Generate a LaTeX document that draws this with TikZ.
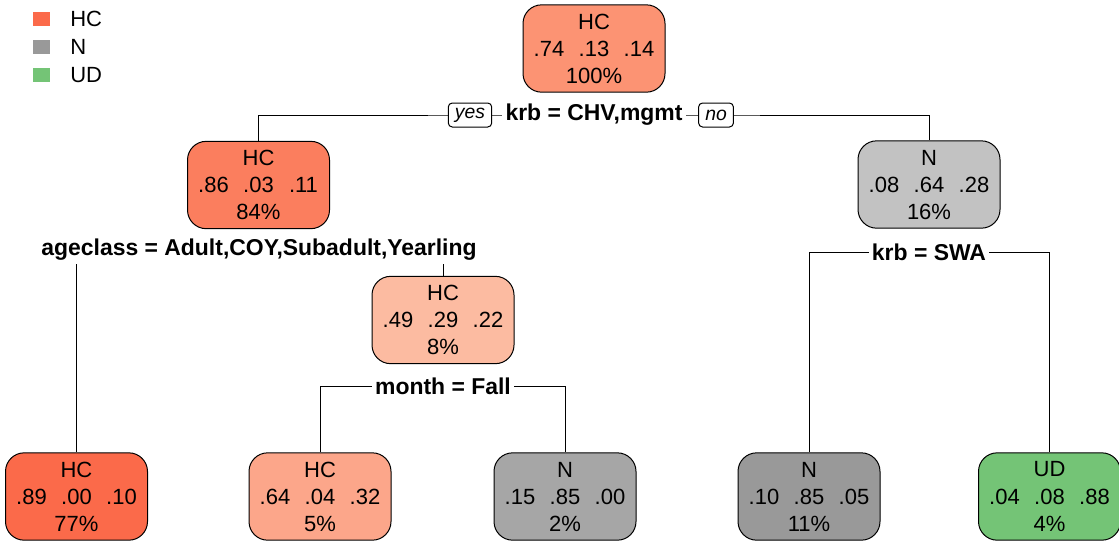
\documentclass[tikz,border=0pt]{standalone}
\usepackage{fontspec}
\setmainfont{Liberation Sans}
\begin{document}
\definecolor{hcA}{HTML}{FB6A4A}
\definecolor{hcB}{HTML}{FB7E5E}
\definecolor{hcC}{HTML}{FC9373}
\definecolor{hcD}{HTML}{FCA68A}
\definecolor{hcE}{HTML}{FCBBA1}
\definecolor{nA}{HTML}{999999}
\definecolor{nB}{HTML}{A6A6A6}
\definecolor{nC}{HTML}{C2C2C2}
\definecolor{udA}{HTML}{74C476}
\newcommand{\probs}[3]{\makebox[33.75pt][c]{#1}\makebox[33.75pt][c]{#2}\makebox[33.75pt][c]{#3}}
% tree node: name, x, y, fill, class, p1, p2, p3, percent
\newcommand{\treebox}[9]{%
  \node[treenode, fill=#4] (#1) at (#2,#3) {};
  \node[nodetxt] (#1-cls) at (#2,#3-27) {#5};
  \node[nodetxt] (#1-prb) at (#2,#3) {\probs{#6}{#7}{#8}};
  \node[nodetxt] (#1-pct) at (#2,#3+27) {#9};
}
\begin{tikzpicture}[x=0.75pt, y=-0.75pt,
  treenode/.style={draw=black, line width=0.75pt, rounded corners=14pt,
    minimum width=106.5pt, minimum height=65.5pt, inner sep=0pt},
  nodetxt/.style={inner sep=0pt, font=\fontsize{16.5}{18}\selectfont},
  splittxt/.style={fill=white, inner sep=2.5pt, font=\fontsize{17.2}{19}\selectfont\bfseries},
  yesno/.style={draw=black, fill=white, line width=0.75pt, rounded corners=3pt,
    inner xsep=5pt, inner ysep=1.5pt, minimum height=18pt, font=\fontsize{14.5}{16}\selectfont\itshape},
  edge/.style={line width=0.75pt},
  legsq/.style={fill=#1, minimum width=12.75pt, minimum height=10.5pt, inner sep=0pt},
  legtxt/.style={anchor=west, inner sep=0pt, font=\fontsize{16.5}{18}\selectfont}]
\useasboundingbox (0,0) rectangle (1119,544);

% legend
\node[legsq=hcA] (kHC) at (41.5,19) {};
\node[legsq=nA]  (kN)  at (41.5,47) {};
\node[legsq=udA] (kUD) at (41.5,75) {};
\node[legtxt] (tHC) at (70,19) {HC};
\node[legtxt] (tN)  at (70,47) {N};
\node[legtxt] (tUD) at (70,75) {UD};

% split points
\coordinate (s1) at (594,115);
\coordinate (s2) at (259,250);
\coordinate (s3) at (929,252);
\coordinate (s4) at (443,386);

% boxes
\treebox{n1}{594}{48.5}{hcC}{HC}{.74}{.13}{.14}{100\%}
\treebox{n2}{258.5}{185}{hcB}{HC}{.86}{.03}{.11}{84\%}
\treebox{n3}{929}{184.5}{nC}{N}{.08}{.64}{.28}{16\%}
\treebox{n5}{443}{320}{hcE}{HC}{.49}{.29}{.22}{8\%}
\treebox{l4}{76.5}{496.5}{hcA}{HC}{.89}{.00}{.10}{77\%}
\treebox{l10}{320}{496.5}{hcD}{HC}{.64}{.04}{.32}{5\%}
\treebox{l11}{565}{496.5}{nB}{N}{.15}{.85}{.00}{2\%}
\treebox{l6}{809}{496.5}{nA}{N}{.10}{.85}{.05}{11\%}
\treebox{l7}{1049.5}{496.5}{udA}{UD}{.04}{.08}{.88}{4\%}

% connectors
\draw[edge] (n2.north) |- (s1) -| (n3.north);
\draw[edge] (l4.north) |- (s2) -| (n5.north);
\draw[edge] (l6.north) |- (s3) -| (l7.north);
\draw[edge] (l10.north) |- (s4) -| (l11.north);

% split labels
\node[splittxt] (q1) at (s1) {krb = CHV,mgmt};
\node[splittxt] (q2) at (s2) {ageclass = Adult,COY,Subadult,Yearling};
\node[splittxt] (q3) at (s3) {krb = SWA};
\node[splittxt] (q4) at (s4) {month = Fall};
\node[yesno] (yes) at (470,115) {yes};
\node[yesno] (no) at (716,115) {no};
\end{tikzpicture}
\end{document}
